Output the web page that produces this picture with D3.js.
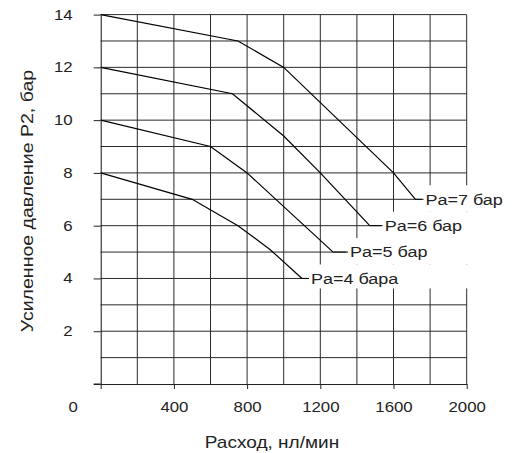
<!DOCTYPE html>
<html>
<head>
<meta charset="utf-8">
<script src="https://cdn.jsdelivr.net/npm/d3@7"></script>
<style>
  html, body { margin: 0; padding: 0; background: #fff; }
  svg { display: block; font-family: "Liberation Sans", Arial, sans-serif; }
</style>
</head>
<body>
<svg id="chart" width="517" height="453"></svg>
<script>
// Boost pressure P2 versus flow for four supply pressures Pa
const seriesNames = ["Pa=4 бара", "Pa=5 бар", "Pa=6 бар", "Pa=7 бар"];
const flowPa4 = [0, 500, 750, 925, 1100];
const presPa4 = [8, 7, 6, 5.1, 4];
const flowPa5 = [0, 600, 800, 1270];
const presPa5 = [10, 9, 8, 5];
const flowPa6 = [0, 720, 1000, 1200, 1470];
const presPa6 = [12, 11, 9.4, 8, 6];
const flowPa7 = [0, 750, 1000, 1600, 1720];
const presPa7 = [14, 13, 12, 8, 7];

const xTickValues = [0, 400, 800, 1200, 1600, 2000];
const yTickValues = [0, 2, 4, 6, 8, 10, 12, 14];
const xTitle = "Расход, нл/мин";
const yTitle = "Усиленное давление P2, бар";

// label gap after each curve end (px)
const labelGap = [9, 17, 15, 10];

const series = [
  { name: seriesNames[0], flow: flowPa4, pres: presPa4 },
  { name: seriesNames[1], flow: flowPa5, pres: presPa5 },
  { name: seriesNames[2], flow: flowPa6, pres: presPa6 },
  { name: seriesNames[3], flow: flowPa7, pres: presPa7 }
];

const svg = d3.select("#chart");
const x = d3.scaleLinear().domain([0, 2000]).range([100.7, 466.7]);
const y = d3.scaleLinear().domain([0, 14]).range([384, 14.6]);
const stretch = "scale(1.2,1)";
const gridColor = "#2a2a2a";
const textColor = "#222";

// grid
const grid = svg.append("g");
grid.selectAll("line.v").data(d3.range(200, 2001, 200)).join("line")
  .attr("x1", d => x(d)).attr("x2", d => x(d))
  .attr("y1", y(0)).attr("y2", y(14))
  .attr("stroke", gridColor).attr("stroke-width", 1);
grid.selectAll("line.h").data(d3.range(1, 15, 1)).join("line")
  .attr("x1", x(0)).attr("x2", x(2000))
  .attr("y1", d => y(d)).attr("y2", d => y(d))
  .attr("stroke", gridColor).attr("stroke-width", 1);

// curves
const line = d3.line().x(d => x(d[0])).y(d => y(d[1]));
series.forEach((s, i) => {
  const pts = s.flow.map((f, k) => [f, s.pres[k]]);
  const end = pts[pts.length - 1];
  const ex = x(end[0]), ey = y(end[1]);
  const lx = ex + labelGap[i];
  // white panel behind the label
  svg.append("rect")
    .attr("x", lx - 4).attr("y", ey - 14)
    .attr("width", 517 - (lx - 4)).attr("height", i === 0 ? 24 : 26.4)
    .attr("fill", "#fff");
  svg.append("path").datum(pts)
    .attr("d", line).attr("fill", "none")
    .attr("stroke", "#000").attr("stroke-width", 1.2);
  svg.append("line")
    .attr("x1", ex).attr("x2", lx - 2).attr("y1", ey).attr("y2", ey)
    .attr("stroke", "#000").attr("stroke-width", 1);
  svg.append("text")
    .attr("transform", `translate(${lx},${ey}) ${stretch}`)
    .attr("dy", "0.35em")
    .attr("font-size", 15)
    .attr("fill", textColor)
    .text(s.name);
});

// axes
const xAxis = svg.append("g").attr("transform", `translate(0,${y(0)})`)
  .call(d3.axisBottom(x).tickValues(xTickValues).tickSize(5).tickSizeOuter(0)
    .tickFormat(d3.format("d")));
xAxis.select(".domain").attr("stroke", "#222");
xAxis.selectAll(".tick line").attr("stroke", "#222");
xAxis.selectAll(".tick text")
  .attr("y", 28).attr("dy", null)
  .attr("font-size", 14).attr("fill", textColor)
  .attr("font-family", "Liberation Sans, Arial, sans-serif")
  .attr("transform", d => (d === 0 ? "translate(-28,0) " : "") + stretch);
// axis line reaches left past the origin
svg.append("line")
  .attr("x1", x(0) - 7).attr("x2", x(0)).attr("y1", y(0)).attr("y2", y(0))
  .attr("stroke", "#222");

const yAxis = svg.append("g").attr("transform", `translate(${x(0)},0)`)
  .call(d3.axisLeft(y).tickValues(yTickValues).tickSize(7).tickSizeOuter(0)
    .tickFormat(d => d === 0 ? "" : d));
yAxis.select(".domain").attr("stroke", "#111");
yAxis.selectAll(".tick line").attr("stroke", "#222");
yAxis.selectAll(".tick text")
  .attr("x", 0)
  .attr("font-size", 14).attr("fill", textColor)
  .attr("font-family", "Liberation Sans, Arial, sans-serif")
  .attr("transform", `translate(-28,0) ${stretch}`);

// axis titles
svg.append("text")
  .attr("transform", `translate(272,448) scale(1.12,1)`)
  .attr("text-anchor", "middle")
  .attr("font-size", 17).attr("fill", textColor)
  .text(xTitle);
svg.append("text")
  .attr("transform", `translate(33,201) rotate(-90) scale(1.15,1)`)
  .attr("text-anchor", "middle")
  .attr("font-size", 17).attr("fill", textColor)
  .text(yTitle);
</script>
</body>
</html>
